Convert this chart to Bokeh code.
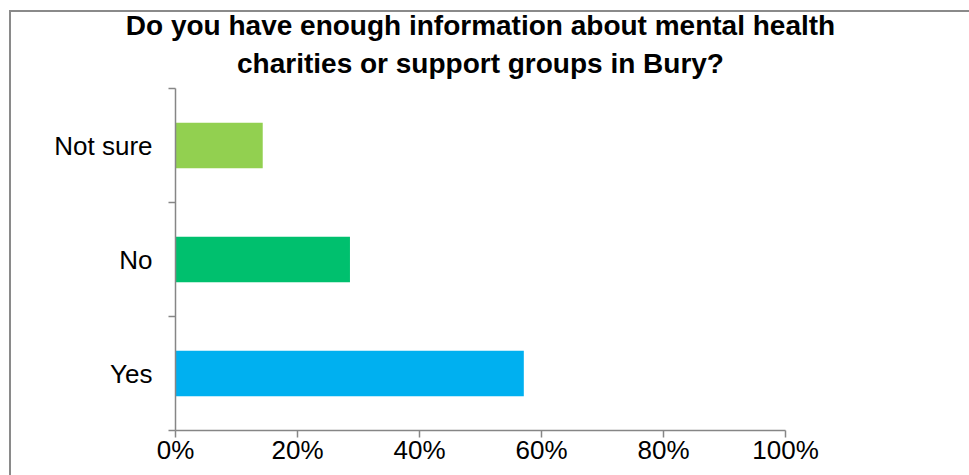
from bokeh.plotting import figure
from bokeh.models import Range1d, FixedTicker, Title, NumeralTickFormatter, ColumnDataSource
from bokeh.embed import file_html
from bokeh.resources import INLINE

categories = ["Yes", "No", "Not sure"]
values = [0.571, 0.286, 0.143]
colors = ["#00B0F0", "#00C06E", "#92D050"]
x_ticks = [0, 0.2, 0.4, 0.6, 0.8, 1.0]
title_lines = ["Do you have enough information about mental health",
               "charities or support groups in Bury?"]

pos = [i + 0.5 for i in range(len(categories))]
src = ColumnDataSource(dict(y=pos, right=values, color=colors, cat=categories))

W, H = 960, 465
p = figure(width=W, height=H, output_backend="svg", toolbar_location=None,
           x_range=Range1d(0, 1), y_range=Range1d(0, len(categories)),
           min_border_left=164, min_border_right=186, min_border_top=76, min_border_bottom=47,
           margin=(10, 0, 0, 9))
p.styles = {"border-top": "2px solid #8a8a8a", "border-left": "2px solid #8a8a8a"}
p.outline_line_color = None
p.grid.visible = False
p.title.visible = False

p.hbar(y="y", left=0, right="right", height=0.4, color="color", line_color=None, source=src)

axis_color = "#868686"
font = "Liberation Sans"

xa = p.xaxis[0]
xa.ticker = FixedTicker(ticks=x_ticks, minor_ticks=[])
xa.formatter = NumeralTickFormatter(format="0%")
xa.axis_line_color = axis_color
xa.axis_line_width = 1.5
xa.major_tick_line_color = axis_color
xa.major_tick_line_width = 1.5
xa.major_tick_in = 0
xa.major_tick_out = 7
xa.major_label_standoff = -3
xa.major_label_text_font = font
xa.major_label_text_font_size = "26px"
xa.major_label_text_color = "black"

ya = p.yaxis[0]
ya.ticker = FixedTicker(ticks=pos, minor_ticks=list(range(len(categories) + 1)))
ya.major_label_overrides = {pos[i]: categories[i] for i in range(len(categories))}
ya.axis_line_color = axis_color
ya.axis_line_width = 1.5
ya.major_tick_line_color = None
ya.major_tick_in = 0
ya.major_tick_out = 0
ya.minor_tick_line_color = axis_color
ya.minor_tick_line_width = 1.5
ya.minor_tick_in = 0
ya.minor_tick_out = 7
ya.major_label_standoff = 16
ya.major_label_text_font = font
ya.major_label_text_font_size = "26px"
ya.major_label_text_color = "black"

title_standoffs = [-10, 20]
for t, so in reversed(list(zip(title_lines, title_standoffs))):
    p.add_layout(Title(text=t, align="center", offset=3, standoff=so,
                       text_font=font, text_font_size="28px", text_font_style="bold",
                       text_color="black"), "above")

open("out.html", "w").write(file_html(p, INLINE))
